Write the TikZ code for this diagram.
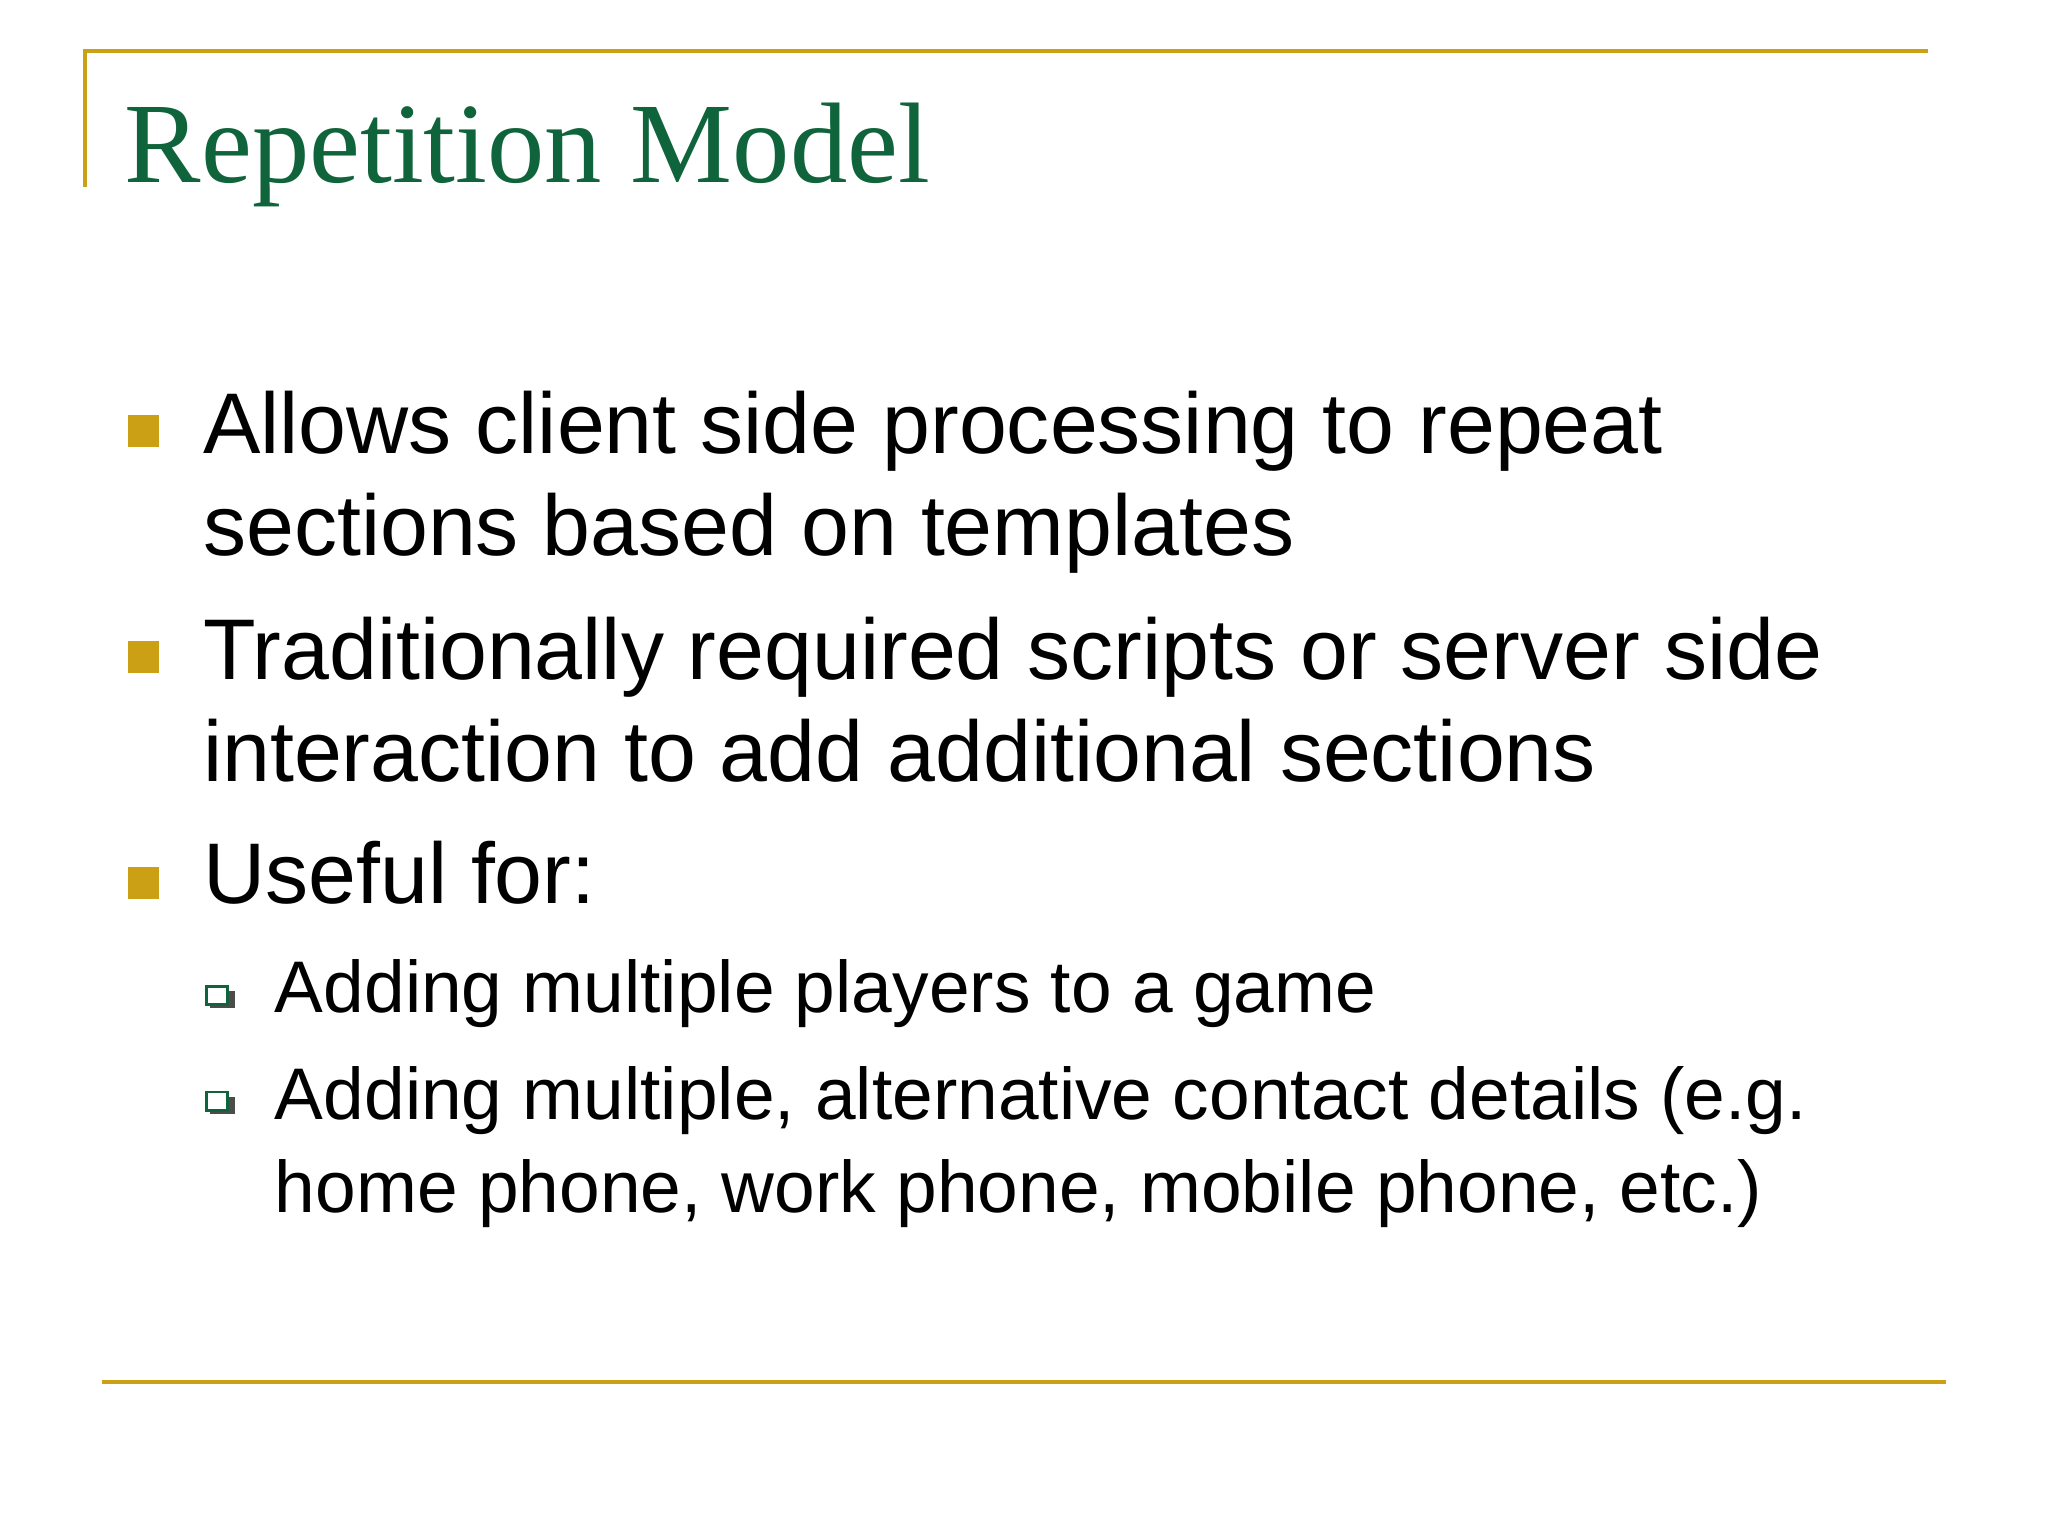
\documentclass[tikz,border=0pt]{standalone}
\usepackage{fontspec}
\setmainfont{Liberation Sans}
\newfontfamily\titlefont{Liberation Serif}
\definecolor{gold}{RGB}{204,160,20}
\definecolor{tgreen}{RGB}{16,100,60}
\begin{document}
\begin{tikzpicture}[x=0.01306cm,y=-0.01306cm,
  main/.style={anchor=base west,inner sep=0pt,font=\fontsize{24.5}{29}\selectfont},
  sub/.style={anchor=base west,inner sep=0pt,font=\fontsize{20.8}{25}\selectfont},
  rule/.style={draw=gold,line width=1.1pt},
  bul/.style={fill=gold}]
\useasboundingbox (0,0) rectangle (1568,1176);
\draw[rule] (65,143) -- (65,39) -- (1476,39);
\draw[rule] (78,1058) -- (1490,1058);
\node[anchor=base west,inner sep=0pt,text=tgreen,font=\titlefont\fontsize{32.6}{36}\selectfont] (title) at (95,140) {Repetition Model};
\foreach \y in {330,503,676} \fill[bul] (98,\y-12) rectangle (122,\y+12);
\node[main] (t1) at (155,347) {Allows client side processing to repeat};
\node[main] (t1b) at (155,425) {sections based on templates};
\node[main] (t2) at (155,520) {Traditionally required scripts or server side};
\node[main] (t2b) at (155,598) {interaction to add additional sections};
\node[main] (t3) at (155,692) {Useful for:};
\foreach \y in {763,844} {
  \fill[black!70] (161,\y-4) rectangle (180,\y+9);
  \filldraw[fill=white,draw=tgreen,line width=0.8pt] (158,\y-8) rectangle (174,\y+6);
}
\node[sub] (s1) at (210,775) {Adding multiple players to a game};
\node[sub] (s2) at (210,857) {Adding multiple, alternative contact details (e.g.};
\node[sub] (s2b) at (210,928) {home phone, work phone, mobile phone, etc.)};
\end{tikzpicture}
\end{document}
